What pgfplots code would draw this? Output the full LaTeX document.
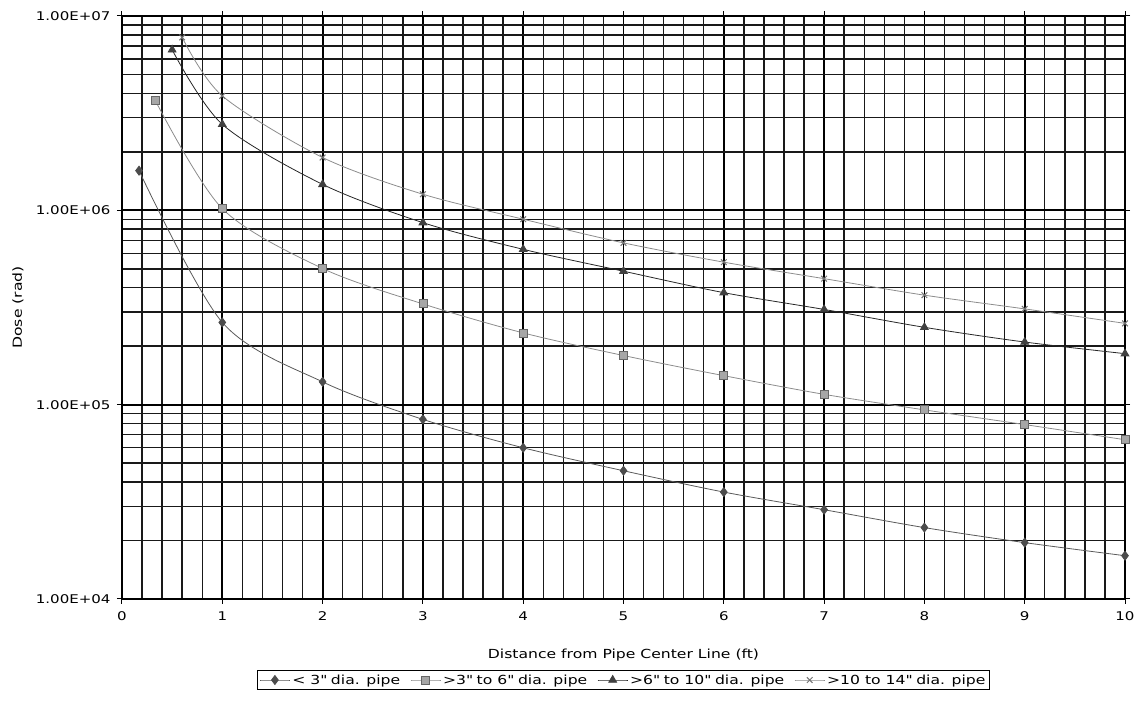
\documentclass[border=0pt]{standalone}
\usepackage{fontspec}
\setmainfont{DejaVu Sans}[FakeStretch=1.25]
\usepackage{pgfplots}
\pgfplotsset{compat=1.18}
\newcommand{\q}{\textquotedbl}
\begin{document}
\begin{tikzpicture}[x=1pt,y=1pt]
\begin{axis}[
  at={(122pt,110pt)}, anchor=south west,
  scale only axis, width=1003pt, height=583pt,
  xmin=0, xmax=10, ymin=1e4, ymax=1e7, ymode=log,
  xtick={0,1,2,3,4,5,6,7,8,9,10}, xticklabels={0,1,2,3,4,5,6,7,8,9,10},
  minor x tick num=4,
  ytick={1e4,1e5,1e6,1e7}, yticklabels={1.00E+04,1.00E+05,1.00E+06,1.00E+07},
  grid=both,
  major grid style={black, line width=1.8pt},
  minor grid style={black!90, line width=1.4pt},
  tick align=outside, major tick length=5pt, minor tick length=0pt,
  tick style={black, line width=1pt},
  axis line style={black, line width=1.6pt},
  ticklabel style={font=\fontsize{12}{14}\selectfont},
  xticklabel style={yshift=-4pt},
  yticklabel style={xshift=-3pt},
  xlabel={Distance from Pipe Center Line (ft)},
  ylabel={Dose (rad)},
  label style={font=\fontsize{12.5}{15}\selectfont},
  xlabel style={at={(axis description cs:0.5,-0.096)}, anchor=center},
  ylabel style={at={(axis description cs:-0.1037,0.5)}, anchor=center},
  legend style={at={(axis description cs:0.5,-0.122)}, anchor=north, legend columns=4, draw=black, line width=0.8pt, inner sep=2pt, font=\fontsize{12.5}{14}\selectfont, /tikz/every even column/.append style={column sep=8pt}},
  legend image code/.code={\draw[mark repeat=2,mark phase=2] plot coordinates {(0pt,0pt) (15pt,0pt) (30pt,0pt)};},
  legend cell align=left,
]
\addplot[smooth, color=black!65, line width=0.8pt, mark=diamond*, mark size=4.5pt, mark options={fill=black!70, draw=black!70, solid}]
coordinates {(0.17,1.6e6) (1,2.65e5) (2,1.31e5) (3,8.4e4) (4,6.0e4) (5,4.57e4) (6,3.55e4) (7,2.88e4) (8,2.33e4) (9,1.95e4) (10,1.67e4)};
\addlegendentry{< 3\q{} dia. pipe}
\addplot[smooth, color=black!45, line width=0.8pt, mark=square*, mark size=4pt, mark options={fill=black!35, draw=black!60, solid}]
coordinates {(0.33,3.69e6) (1,1.02e6) (2,5.02e5) (3,3.3e5) (4,2.34e5) (5,1.79e5) (6,1.41e5) (7,1.13e5) (8,9.4e4) (9,7.9e4) (10,6.6e4)};
\addlegendentry{>3\q{} to 6\q{} dia. pipe}
\addplot[smooth, color=black!85, line width=0.8pt, mark=triangle*, mark size=4.5pt, mark options={fill=black!75, draw=black!75, solid}]
coordinates {(0.5,6.7e6) (1,2.77e6) (2,1.36e6) (3,8.64e5) (4,6.3e5) (5,4.86e5) (6,3.77e5) (7,3.09e5) (8,2.5e5) (9,2.1e5) (10,1.83e5)};
\addlegendentry{>6\q{} to 10\q{} dia. pipe}
\addplot[smooth, color=black!45, line width=0.8pt, mark=x, mark size=4pt, mark options={draw=black!55, line width=1pt, solid}]
coordinates {(0.6,7.76e6) (1,3.88e6) (2,1.87e6) (3,1.21e6) (4,9.0e5) (5,6.8e5) (6,5.41e5) (7,4.45e5) (8,3.66e5) (9,3.11e5) (10,2.62e5)};
\addlegendentry{>10 to 14\q{} dia. pipe}
\end{axis}
\pgfresetboundingbox
\useasboundingbox (0,0) rectangle (1138,709);
\end{tikzpicture}
\end{document}
